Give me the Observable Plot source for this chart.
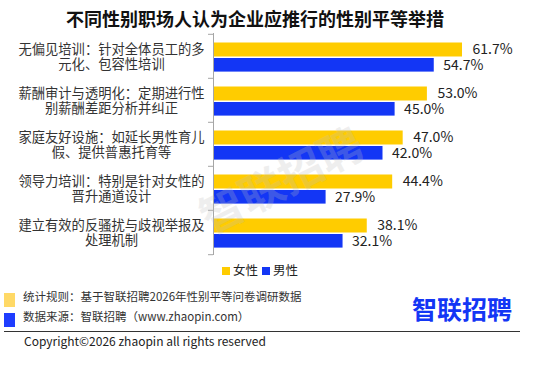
<!DOCTYPE html>
<html>
<head>
<meta charset="utf-8">
<script src="https://cdn.jsdelivr.net/npm/d3@7"></script>
<script src="https://cdn.jsdelivr.net/npm/@observablehq/plot@0.6"></script>
<style>
  html, body { margin: 0; padding: 0; background: #fff; }
  body { width: 549px; height: 372px; position: relative; overflow: hidden;
         font-family: "Noto Sans CJK SC", "Noto Sans", sans-serif; color: #333; }
  .abs { position: absolute; white-space: nowrap; }
  #title { left: 0; width: 510px; top: 6px; text-align: center; font-size: 18px; font-weight: bold; color: #111; line-height: 24px; }
  #chart { left: 0; top: 28px; }
  #legend { left: 222px; top: 261px; font-size: 12.5px; line-height: 18px; color: #222; }
  #legend .sw { display: inline-block; width: 8px; height: 8px; margin-right: 3px; vertical-align: 0px; }
  .note { left: 23px; font-size: 11.5px; line-height: 16px; color: #333; }
  .mark { left: 4px; width: 11px; height: 14px; }
  #logo { left: 412px; top: 292px; font-size: 25px; font-weight: bold; color: #1336f5; line-height: 32px; letter-spacing: 0px; }
  #rule { left: 4px; top: 331px; width: 516px; height: 0; border-top: 1.2px solid #333; }
  #copy { left: 24px; top: 332px; font-size: 12px; line-height: 18px; color: #222; }
  #wm { left: 192px; top: 146px; font-size: 44px; font-weight: bold; color: rgba(190,190,190,0.25); transform: rotate(-27deg); transform-origin: center; pointer-events: none; }
</style>
</head>
<body>
<div id="title" class="abs"></div>
<div id="chart" class="abs"></div>
<div id="wm" class="abs">智联招聘</div>
<div id="legend" class="abs"></div>
<div class="abs mark" style="top:293px;background:#ffd966"></div>
<div class="abs mark" style="top:313px;background:#1f3dff"></div>
<div class="abs note" id="n1" style="top:288px"></div>
<div class="abs note" id="n2" style="top:308px"></div>
<div id="logo" class="abs">智联招聘</div>
<div id="rule" class="abs"></div>
<div id="copy" class="abs"></div>
<script>
const title = "不同性别职场人认为企业应推行的性别平等举措";
const categories = [
  "无偏见培训：针对全体员工的多\n元化、包容性培训",
  "薪酬审计与透明化：定期进行性\n别薪酬差距分析并纠正",
  "家庭友好设施：如延长男性育儿\n假、提供普惠托育等",
  "领导力培训：特别是针对女性的\n晋升通道设计",
  "建立有效的反骚扰与歧视举报及\n处理机制"
];
const female = [61.7, 53.0, 47.0, 44.4, 38.1];
const male = [54.7, 45.0, 42.0, 27.9, 32.1];
const seriesNames = ["女性", "男性"];
const seriesColors = ["#ffcc00", "#1336f5"];
const notes = ["统计规则：基于智联招聘2026年性别平等问卷调研数据", "数据来源：智联招聘（www.zhaopin.com）"];
const copyright = "Copyright©2026 zhaopin all rights reserved";

const data = categories.map((c, i) => ({category: c, female: female[i], male: male[i]}));
const fmt = v => v.toFixed(1) + "%";

document.getElementById("title").textContent = title;
document.getElementById("n1").textContent = notes[0];
document.getElementById("n2").textContent = notes[1];
document.getElementById("copy").textContent = copyright;

const band = (234 - 5 - 7) / categories.length;

const chart = Plot.plot({
  width: 549,
  height: 234,
  marginTop: 5,
  marginBottom: 7,
  marginLeft: 213,
  marginRight: 53.5,
  style: {fontFamily: '"Noto Sans CJK SC", sans-serif', background: "transparent"},
  x: {domain: [0, 70], axis: null},
  y: {domain: categories, padding: 0, axis: null},
  marks: [
    Plot.barX(data, {x: "female", y: "category", fill: seriesColors[0], insetTop: 8.5, insetBottom: 21.5}),
    Plot.barX(data, {x: "male", y: "category", fill: seriesColors[1], insetTop: 24, insetBottom: 6.4}),
    Plot.text(data, {x: "female", y: "category", text: d => fmt(d.female), textAnchor: "start", dx: 10, dy: -6.5, fontSize: 14, fill: "#222"}),
    Plot.text(data, {x: "male", y: "category", text: d => fmt(d.male), textAnchor: "start", dx: 9, dy: 8.8, fontSize: 14, fill: "#222"}),
    Plot.ruleX([0], {stroke: "#a6a6a6"}),
    Plot.axisY({label: null, tickSize: 0, tickPadding: 0, textAnchor: "middle", dx: -102, fontSize: 13.3, lineHeight: 1.12, fill: "#333"}),
    Plot.axisY({label: null, tickSize: 5, tickFormat: () => "", dy: -band / 2, stroke: "#a6a6a6"}),
    Plot.axisY({label: null, ticks: [categories[categories.length - 1]], tickSize: 5, tickFormat: () => "", dy: band / 2, stroke: "#a6a6a6"})
  ]
});
document.getElementById("chart").appendChild(chart);

const legend = document.getElementById("legend");
seriesNames.forEach((name, i) => {
  const s = document.createElement("span");
  s.className = "sw";
  s.style.background = seriesColors[i];
  legend.appendChild(s);
  const t = document.createElement("span");
  t.textContent = name;
  t.style.marginRight = i === 0 ? "4px" : "0";
  legend.appendChild(t);
});
</script>
</body>
</html>
